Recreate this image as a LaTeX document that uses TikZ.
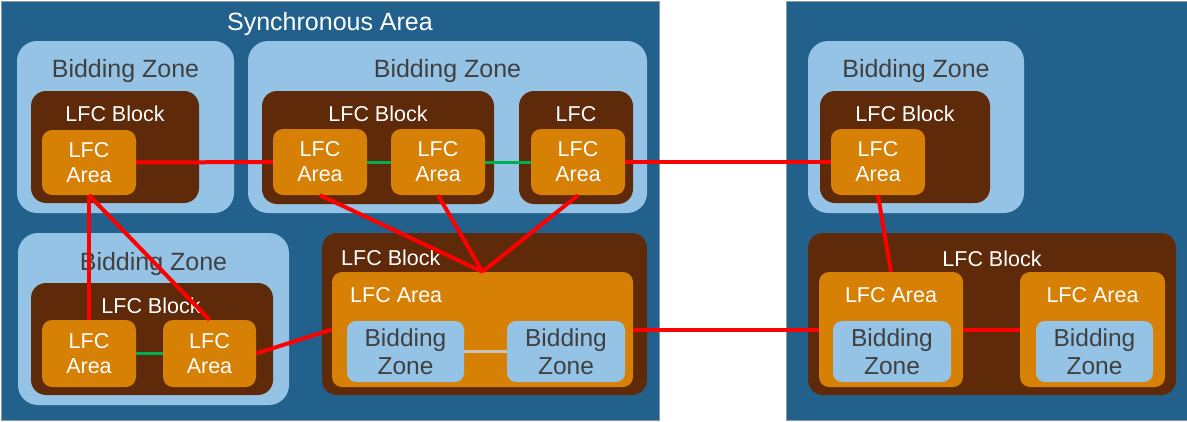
\documentclass[tikz,border=0pt]{standalone}
\usepackage{fontspec}
\setmainfont{Liberation Sans}
\usetikzlibrary{fit}
\definecolor{syncblue}{HTML}{23618D}
\definecolor{syncedge}{HTML}{8A9AA8}
\definecolor{bzblue}{HTML}{95C3E6}
\definecolor{blkbrown}{HTML}{5E2A0A}
\definecolor{areaorange}{HTML}{D68006}
\definecolor{bztext}{HTML}{404040}
\definecolor{linkred}{HTML}{FF0000}
\definecolor{linkgreen}{HTML}{00B050}
\definecolor{linkgrey}{HTML}{CCC2B8}
\begin{document}
\begin{tikzpicture}[x=1pt,y=-1pt,
  sync/.style={fill=syncblue, draw=syncedge, line width=0.8pt, inner sep=0pt},
  bz/.style={fill=bzblue, rounded corners=20pt, inner sep=0pt},
  blk/.style={fill=blkbrown, rounded corners=15pt, inner sep=0pt},
  area/.style={fill=areaorange, rounded corners=10pt, inner sep=0pt},
  ibz/.style={fill=bzblue, rounded corners=9pt, inner sep=0pt},
  titletext/.style={text=white, font=\fontsize{25}{30}\selectfont, inner sep=0pt, anchor=base},
  bzlabel/.style={text=bztext, font=\fontsize{25}{30}\selectfont, inner sep=0pt, anchor=base},
  lfclabel/.style={text=white, font=\fontsize{21.5}{25}\selectfont, inner sep=0pt, anchor=base},
  areatext/.style={text=white, font=\fontsize{21.5}{25}\selectfont, inner sep=0pt, align=center},
  ibztext/.style={text=bztext, font=\fontsize{24.5}{28}\selectfont, inner sep=0pt, align=center},
  redlink/.style={draw=linkred, line width=4pt},
  greenlink/.style={draw=linkgreen, line width=3pt},
  greylink/.style={draw=linkgrey, line width=3pt}
]
\useasboundingbox (0,0) rectangle (1187,421);
% synchronous areas
\node[sync, fit={(1,1) (659,420)}] (syncL) {};
\node[sync, fit={(786,1) (1190,420)}] (syncR) {};
\node[titletext] (syncLt) at (330,30.5) {Synchronous Area};

% top-left bidding zone
\node[bz, fit={(17,41) (234,213)}] (bz1) {};
\node[bzlabel] (bz1t) at (125.5,77) {Bidding Zone};
\node[blk, fit={(31,91) (199,203)}] (blk1) {};
\node[lfclabel] (blk1t) at (115,121.5) {LFC Block};
\node[area, fit={(42,130) (136,195)}] (a1) {};
\node[areatext] (a1t) at (a1.center) {LFC\\Area};

% top-middle bidding zone
\node[bz, fit={(248,41) (647,213)}] (bz2) {};
\node[bzlabel] (bz2t) at (447.5,77) {Bidding Zone};
\node[blk, fit={(262,91) (494,204)}] (blk2) {};
\node[lfclabel] (blk2t) at (378,121.5) {LFC Block};
\node[area, fit={(273,129) (367,195)}] (a2a) {};
\node[areatext] (a2at) at (a2a.center) {LFC\\Area};
\node[area, fit={(391,129) (485,195)}] (a2b) {};
\node[areatext] (a2bt) at (a2b.center) {LFC\\Area};
\node[blk, fit={(519,91) (633,204)}] (blk3) {};
\node[lfclabel] (blk3t) at (576,121.5) {LFC};
\node[area, fit={(531,129) (625,195)}] (a3) {};
\node[areatext] (a3t) at (a3.center) {LFC\\Area};

% bottom-left bidding zone
\node[bz, fit={(18,233) (289,405)}] (bz3) {};
\node[bzlabel] (bz3t) at (153.5,270) {Bidding Zone};
\node[blk, fit={(31,283) (273,395)}] (blk4) {};
\node[lfclabel] (blk4t) at (151,313) {LFC Block};
\node[area, fit={(42,320) (136,387)}] (a4a) {};
\node[areatext] (a4at) at (a4a.center) {LFC\\Area};
\node[area, fit={(163,320) (256,387)}] (a4b) {};
\node[areatext] (a4bt) at (a4b.center) {LFC\\Area};

% bottom-middle LFC block
\node[blk, fit={(322,233) (647,395)}] (blk5) {};
\node[lfclabel, anchor=base west] (blk5t) at (341,265.5) {LFC Block};
\node[area, fit={(332,272) (633,387)}] (a5) {};
\node[lfclabel, anchor=base west] (a5t) at (350,302) {LFC Area};
\node[ibz, fit={(347,321) (464,382)}] (z5a) {};
\node[ibztext] (z5at) at (z5a.center) {Bidding\\Zone};
\node[ibz, fit={(507,321) (625,382)}] (z5b) {};
\node[ibztext] (z5bt) at (z5b.center) {Bidding\\Zone};

% right synchronous area: bidding zone
\node[bz, fit={(808,41) (1024,213)}] (bzR) {};
\node[bzlabel] (bzRt) at (916,77) {Bidding Zone};
\node[blk, fit={(820,91) (990,203)}] (blkR1) {};
\node[lfclabel] (blkR1t) at (905,121.5) {LFC Block};
\node[area, fit={(831,129) (925,195)}] (aR1) {};
\node[areatext] (aR1t) at (aR1.center) {LFC\\Area};

% right: LFC block with two areas
\node[blk, fit={(808,233) (1176,395)}] (blkR2) {};
\node[lfclabel] (blkR2t) at (992,266) {LFC Block};
\node[area, fit={(819,272) (963,387)}] (aR2a) {};
\node[lfclabel] (aR2at) at (891,302) {LFC Area};
\node[ibz, fit={(833,321) (951,382)}] (zR2a) {};
\node[ibztext] (zR2at) at (zR2a.center) {Bidding\\Zone};
\node[area, fit={(1020,272) (1165,387)}] (aR2b) {};
\node[lfclabel] (aR2bt) at (1092.5,302) {LFC Area};
\node[ibz, fit={(1036,321) (1153,382)}] (zR2b) {};
\node[ibztext] (zR2bt) at (zR2b.center) {Bidding\\Zone};

% connectors
\draw[greenlink] (a2a.east) -- (a2b.west);
\draw[greenlink] (a2b.east) -- (a3.west);
\draw[greenlink] (a4a.east) -- (a4b.west);
\draw[greylink] (z5a.east) -- (z5b.west);
\draw[redlink] (a1.east) -- (a2a.west);
\draw[redlink] (a3.east) -- (aR1.west);
\draw[redlink] (a1.south) -- (a4a.north);
\draw[redlink] (a1.south) -- (a4b.north);
\draw[redlink] (a4b.east) -- (a5.west);
\draw[redlink] (a2a.south) -- (a5.north);
\draw[redlink] (a2b.south) -- (a5.north);
\draw[redlink] (a3.south) -- (a5.north);
\draw[redlink] (a5.east) -- (aR2a.west);
\draw[redlink] (aR1.south) -- (aR2a.north);
\draw[redlink] (aR2a.east) -- (aR2b.west);
\end{tikzpicture}
\end{document}
